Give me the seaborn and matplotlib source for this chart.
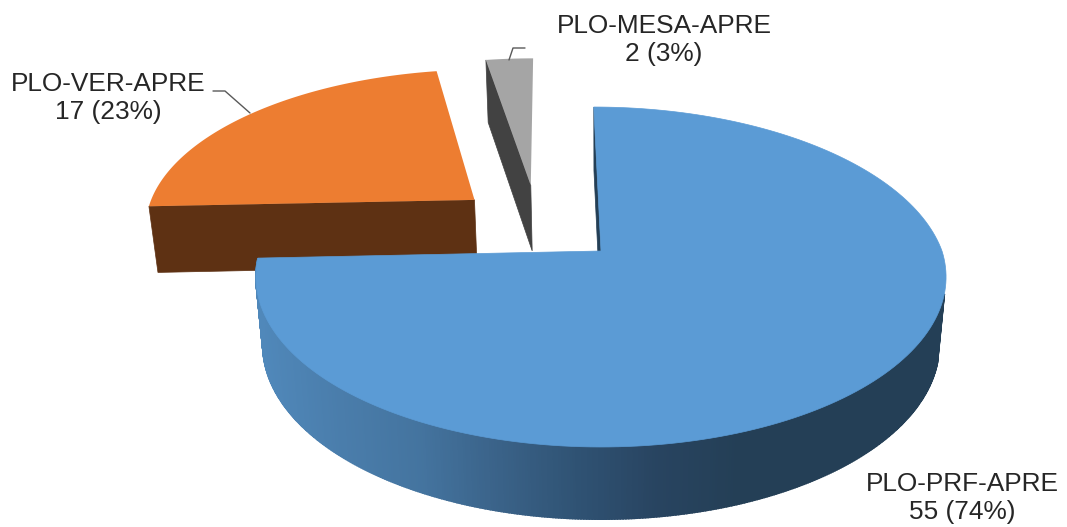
import numpy as np
import seaborn as sns
import matplotlib
matplotlib.use("Agg")
import matplotlib.pyplot as plt

names = ["PLO-PRF-APRE", "PLO-VER-APRE", "PLO-MESA-APRE"]
values = [55, 17, 2]
colors = ["#5b9bd5", "#ed7d31", "#a5a5a5"]
wall_colors = ["#243f56", "#5e3113", "#424242"]

sns.set_theme(style="white")
plt.rcParams['font.family'] = ['Liberation Sans', 'DejaVu Sans']

# pie geometry, in pixels of the picture
explode = 0.27
nudge = [(0, 0), (7, 5), (2.5, 5)]
cx, cy = 601, 251
rx, ry = 341, 166
persp = 0.153
shear = 0.05
depth_scale = 0.98

total = sum(values)
bounds = np.cumsum([0] + values) / total * 2 * np.pi
mids = (bounds[:-1] + bounds[1:]) / 2


def project(i, a):
    # angle on slice i to the tilted plane, first slice sits at cx, cy
    u = explode * (np.sin(mids[i]) - np.sin(mids[0])) + a[0]
    v = explode * (np.cos(mids[i]) - np.cos(mids[0])) + a[1]
    w = 1 + persp * v
    x = cx + rx * u / w + nudge[i][0]
    y = cy - ry * v / w + nudge[i][1]
    # the back half leans to the left a bit
    return x + shear * np.minimum(y - cy, 0), y


def lower(x, y):
    # same point on the bottom face of the pie
    return cx + (x - cx) * depth_scale, y + 61 + 0.025 * y


def slice_outline(i, n=200):
    a = np.linspace(bounds[i], bounds[i + 1], n)
    return project(i, (np.r_[0, np.sin(a)], np.r_[0, np.cos(a)]))


def radial_wall(ax, i, angle):
    x, y = project(i, (np.array([0, np.sin(angle)]), np.array([0, np.cos(angle)])))
    xb, yb = lower(x, y)
    ax.fill(np.r_[x, xb[::-1]], np.r_[y, yb[::-1]], color=wall_colors[i], lw=0.5)


fig = plt.figure(figsize=(10.67, 5.27), dpi=100)
ax = fig.add_axes([0, 0, 1, 1])
ax.set_xlim(0, 1067)
ax.set_ylim(527, 0)
ax.axis("off")

# back slices first
radial_wall(ax, 2, bounds[2])
x, y = slice_outline(2)
ax.fill(x, y, color=colors[2], lw=0)

radial_wall(ax, 1, bounds[1])
x, y = slice_outline(1)
ax.fill(x, y, color=colors[1], lw=0)

# blue slice: straight wall, round wall with shading, then the top
radial_wall(ax, 0, bounds[0])
shade = sns.blend_palette(["#5088ba", "#4a7dab", "#44749f", "#3a6288", "#2f5273", "#284460", "#243f56"], 256)
a = np.linspace(0.58 * np.pi, bounds[1], 400)
x, y = project(0, (np.sin(a), np.cos(a)))
xb, yb = lower(x, y)
for k in range(len(a) - 1):
    c = shade[int(np.clip((x[k] - 258) / (740 - 258), 0, 1) * 255)]
    ax.fill([x[k], x[k + 1], xb[k + 1], xb[k]], [y[k], y[k + 1], yb[k + 1], yb[k]],
            color=c, lw=1.2)
x, y = slice_outline(0)
ax.fill(x, y, color=colors[0], lw=0.5)

# leader lines
ax.plot([213, 225, 250], [91, 91, 113], color="#595959", lw=1)
ax.plot([509, 513, 525], [60, 48, 48], color="#595959", lw=1)

label_pos = [(962, 498), (108, 98), (664, 40)]
for name, val, (lx, ly) in zip(names, values, label_pos):
    ax.text(lx, ly, f"{name}\n{val} ({val / total * 100:.0f}%)", ha="center", va="center",
            fontsize=18.9, color="#262626", linespacing=1.25)

fig.savefig("out.png", dpi=100)
